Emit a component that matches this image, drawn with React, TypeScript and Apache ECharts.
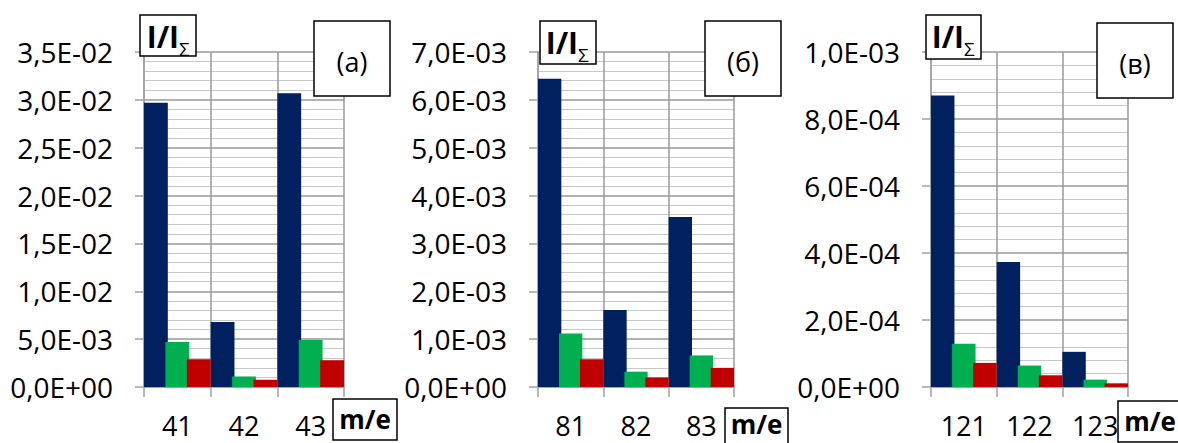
import React, { useEffect, useRef } from "react";
import * as echarts from "echarts";

// ---- data ----
const categoriesA = ["41", "42", "43"];
const blueA = [0.0297, 0.0068, 0.0307];
const greenA = [0.0047, 0.0011, 0.0049];
const redA = [0.0029, 0.00075, 0.0028];

const categoriesB = ["81", "82", "83"];
const blueB = [0.00644, 0.00161, 0.00355];
const greenB = [0.00112, 0.00032, 0.00066];
const redB = [0.00058, 0.0002, 0.0004];

const categoriesC = ["121", "122", "123"];
const blueC = [0.00087, 0.000373, 0.000105];
const greenC = [0.000129, 0.000064, 0.000022];
const redC = [0.000072, 0.000035, 0.000011];

const yMaxes = [0.035, 0.007, 0.001];
const yIntervals = [0.005, 0.001, 0.0002];
const panelLetters = ["(a)", "(б)", "(в)"];
const yName = "I/I";
const yNameSub = "Σ";
const xName = "m/e";

const COLORS = ["#002060", "#00B050", "#C00000"];
const FONT = "Open Sans";

function fmt(v: number): string {
  const s = v.toExponential(1);
  const [m, e] = s.split("e");
  const sign = e[0] === "-" ? "-" : "+";
  const d = Math.abs(parseInt(e, 10));
  return m.replace(".", ",") + "E" + sign + String(d).padStart(2, "0");
}

const grids = [
  { left: 144, top: 52, width: 200, height: 335 },
  { left: 538, top: 52, width: 196, height: 335 },
  { left: 931, top: 52, width: 197, height: 335 },
];

// label box layouts (pixel positions of decorative boxes)
const yBoxes = [
  { x: 140, y: 15, w: 56, h: 41, join: 179 },
  { x: 540, y: 21, w: 56, h: 43, join: 578 },
  { x: 926, y: 15, w: 55, h: 44, join: 964 },
];
const letterBoxes = [
  { x: 314, y: 21, w: 76, h: 75 },
  { x: 705, y: 21, w: 76, h: 75 },
  { x: 1097, y: 23, w: 76, h: 75 },
];
const xBoxes = [
  { x: 333, y: 399, w: 64, h: 41, ty: 419 },
  { x: 725, y: 408, w: 63, h: 42, ty: 424 },
  { x: 1118, y: 401, w: 64, h: 41, ty: 421 },
];

export default function App() {
  const ref = useRef<HTMLDivElement>(null);
  useEffect(() => {
    if (!ref.current) return;
    const chart = echarts.init(ref.current, undefined, { renderer: "svg" });
    const cats = [categoriesA, categoriesB, categoriesC];
    const vals = [
      [blueA, greenA, redA],
      [blueB, greenB, redB],
      [blueC, greenC, redC],
    ];
    const axisGray = "#a0a0a0";

    const xAxis = cats.map((c, i) => ({
      type: "category",
      gridIndex: i,
      data: c,
      boundaryGap: true,
      axisLine: { show: true, lineStyle: { color: axisGray, width: 1.5 } },
      axisTick: { show: true, length: 10, lineStyle: { color: axisGray, width: 1.5 } },
      axisLabel: {
        fontFamily: FONT,
        fontSize: 27,
        lineHeight: 24,
        color: "#000",
        margin: 26,
      },
      splitLine: { show: true, lineStyle: { color: "#999", width: 1.5 } },
    }));
    const yAxis = yMaxes.map((mx, i) => ({
      type: "value",
      gridIndex: i,
      min: 0,
      max: mx,
      interval: yIntervals[i],
      axisLine: { show: true, lineStyle: { color: axisGray, width: 1.5 } },
      axisTick: { show: true, length: 9, lineStyle: { color: axisGray, width: 1.5 } },
      axisLabel: {
        fontFamily: FONT,
        fontSize: 28,
        color: "#000",
        margin: 31,
        formatter: (v: number) => fmt(v),
      },
      splitLine: { show: true, lineStyle: { color: "#999", width: 1.5 } },
      minorTick: { show: false, splitNumber: 5 },
      minorSplitLine: { show: true, lineStyle: { color: "#c8c8c8", width: 1 } },
    }));
    const series: any[] = [];
    vals.forEach((group, gi) => {
      group.forEach((arr, si) => {
        series.push({
          type: "bar",
          xAxisIndex: gi,
          yAxisIndex: gi,
          data: arr,
          barGap: "-10%",
          barCategoryGap: "0%",
          itemStyle: { color: COLORS[si] },
        });
      });
    });

    const graphic: any[] = [];
    yBoxes.forEach((b) => {
      graphic.push({
        type: "rect",
        z: 100,
        shape: { x: b.x, y: b.y, width: b.w, height: b.h },
        style: { fill: "#fff", stroke: "#000", lineWidth: 1.5 },
      });
      graphic.push({
        type: "text",
        z: 101,
        x: b.join,
        y: b.y + 21,
        style: {
          text: yName,
          fontFamily: FONT,
          fontWeight: "bold",
          fontSize: 30,
          fill: "#000",
          align: "right",
          verticalAlign: "middle",
        },
      });
      graphic.push({
        type: "text",
        z: 101,
        x: b.join,
        y: b.y + 34,
        style: {
          text: yNameSub,
          fontFamily: FONT,
          fontSize: 19,
          fill: "#000",
          align: "left",
          verticalAlign: "middle",
        },
      });
    });
    letterBoxes.forEach((b, i) => {
      graphic.push({
        type: "rect",
        z: 100,
        shape: { x: b.x, y: b.y, width: b.w, height: b.h },
        style: { fill: "#fff", stroke: "#000", lineWidth: 1.5 },
      });
      graphic.push({
        type: "text",
        z: 101,
        x: b.x + b.w / 2,
        y: b.y + b.h / 2 + 3,
        style: {
          text: panelLetters[i],
          fontFamily: FONT,
          fontSize: 27,
          fill: "#000",
          align: "center",
          verticalAlign: "middle",
        },
      });
    });
    xBoxes.forEach((b) => {
      graphic.push({
        type: "rect",
        z: 100,
        shape: { x: b.x, y: b.y, width: b.w, height: b.h },
        style: { fill: "#fff", stroke: "#000", lineWidth: 1.5 },
      });
      graphic.push({
        type: "text",
        z: 101,
        x: b.x + b.w / 2,
        y: b.ty,
        style: {
          text: xName,
          fontFamily: FONT,
          fontWeight: "bold",
          fontSize: 26,
          fill: "#000",
          align: "center",
          verticalAlign: "middle",
        },
      });
    });

    chart.setOption({
      animation: false,
      backgroundColor: "#fff",
      grid: grids.map((g) => ({ ...g, containLabel: false })),
      xAxis,
      yAxis,
      series,
      graphic,
    });
    return () => chart.dispose();
  }, []);
  return (
    <div
      ref={ref}
      style={{ position: "fixed", left: 0, top: 0, width: 1178, height: 443, background: "#fff" }}
    />
  );
}
